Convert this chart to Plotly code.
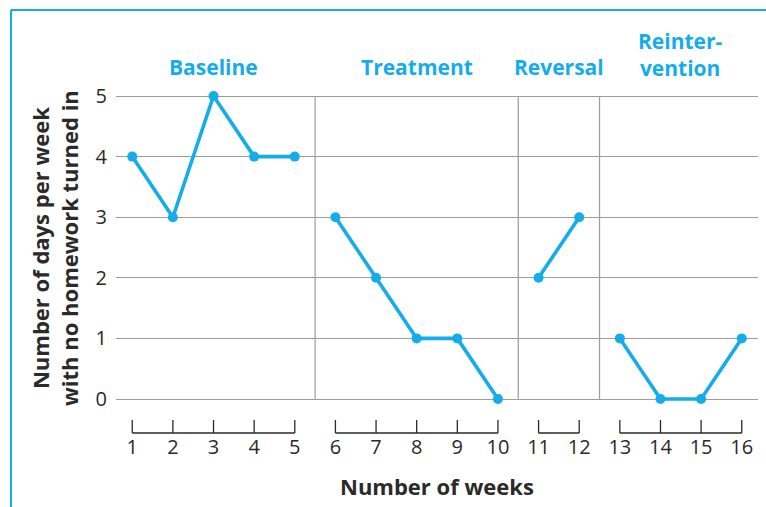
import plotly.graph_objects as go

# ---- data ----
phases = ["Baseline", "Treatment", "Reversal", "Reinter-<br>vention"]
phase_weeks = [[1, 2, 3, 4, 5], [6, 7, 8, 9, 10], [11, 12], [13, 14, 15, 16]]
phase_values = [[4, 3, 5, 4, 4], [3, 2, 1, 1, 0], [2, 3], [1, 0, 0, 1]]
y_ticks = [0, 1, 2, 3, 4, 5]
x_title = "Number of weeks"
y_title = "Number of days per week<br>with no homework turned in"

# ---- styling / layout constants ----
W, H = 766, 507
L, R = 116, 758          # plot area pixel edges (x)
T, B = 80, 470           # plot area pixel edges (y)
Y5, Y0 = 96, 399         # pixel rows of y=5 and y=0
ppu = (Y0 - Y5) / 5.0
y_top = 5 + (Y5 - T) / ppu
y_bot = -(B - Y0) / ppu
BLUE = "#15ADE9"
DARK = "#2a2a2a"
GRID = "#9c9c9c"
BOLD_FONT = "Open Sans"

def py2data(py):
    return (Y0 - py) / ppu

def px2paper(px):
    return (px - L) / (R - L)

def py2paper(py):
    return (B - py) / (B - T)

fig = go.Figure()

# data lines
for wk, vals in zip(phase_weeks, phase_values):
    fig.add_trace(go.Scatter(
        x=wk, y=vals, mode="lines+markers",
        line=dict(color=BLUE, width=3.6),
        marker=dict(color=BLUE, size=10),
        showlegend=False, hoverinfo="skip", cliponaxis=False))

# bracket style x axes under each phase
y_line = py2data(433)
y_tick = py2data(420)
bx, by = [], []
for wk in phase_weeks:
    bx += [wk[0], wk[-1], None]
    by += [y_line, y_line, None]
    for w in wk:
        bx += [w, w, None]
        by += [y_line, y_tick, None]
fig.add_trace(go.Scatter(x=bx, y=by, mode="lines",
                         line=dict(color=DARK, width=1.3),
                         showlegend=False, hoverinfo="skip", cliponaxis=False))

all_weeks = [w for wk in phase_weeks for w in wk]
fig.add_trace(go.Scatter(
    x=all_weeks, y=[py2data(449)] * len(all_weeks), mode="text",
    text=[str(w) for w in all_weeks],
    textfont=dict(family="Open Sans", size=20, color=DARK),
    showlegend=False, hoverinfo="skip", cliponaxis=False))

# phase separators
shapes = []
for a, b in zip(phase_weeks[:-1], phase_weeks[1:]):
    xs = (a[-1] + b[0]) / 2
    shapes.append(dict(type="line", xref="x", yref="y", x0=xs, x1=xs,
                       y0=0, y1=5, line=dict(color=GRID, width=1.2), layer="below"))

# outer light-blue frame (left and top)
shapes.append(dict(type="line", xref="paper", yref="paper",
                   x0=px2paper(11), x1=px2paper(11), y0=py2paper(H + 5), y1=py2paper(10),
                   line=dict(color=BLUE, width=2)))
shapes.append(dict(type="line", xref="paper", yref="paper",
                   x0=px2paper(11), x1=px2paper(W + 5), y0=py2paper(10), y1=py2paper(10),
                   line=dict(color=BLUE, width=2)))

annotations = []
for name, wk in zip(phases, phase_weeks):
    cx = (wk[0] + wk[-1]) / 2
    cy = 54 if "<br>" in name else 67
    annotations.append(dict(
        x=cx, xref="x", y=py2paper(cy), yref="paper", text="<b>%s</b>" % name,
        showarrow=False, xanchor="center", yanchor="middle",
        font=dict(family=BOLD_FONT, size=21, color=BLUE)))

annotations.append(dict(
    x=(phase_weeks[0][0] + phase_weeks[-1][-1]) / 2, xref="x",
    y=py2paper(486), yref="paper", text="<b>%s</b>" % x_title,
    showarrow=False, xanchor="center", yanchor="middle",
    font=dict(family=BOLD_FONT, size=22, color=DARK)))

annotations.append(dict(
    x=px2paper(54), xref="paper", y=py2paper(248), yref="paper",
    text="<b>%s</b>" % y_title, textangle=-90,
    showarrow=False, xanchor="center", yanchor="middle",
    font=dict(family=BOLD_FONT, size=22, color=DARK)))

fig.update_layout(
    width=W, height=H,
    margin=dict(l=L, r=W - R, t=T, b=H - B, pad=0),
    paper_bgcolor="white", plot_bgcolor="white",
    xaxis=dict(range=[0.6, 16.4], visible=False, fixedrange=True),
    yaxis=dict(range=[y_bot, y_top], tickvals=y_ticks,
               ticktext=[str(v) for v in y_ticks],
               showgrid=True, gridcolor=GRID, gridwidth=1.2,
               zeroline=False, showline=False, ticks="",
               ticklabelstandoff=8,
               tickfont=dict(family="Open Sans", size=20, color=DARK)),
    shapes=shapes, annotations=annotations,
    showlegend=False,
)

fig.write_html("out.html",
               config={"displayModeBar": False},
               post_script="document.body.style.margin='0';document.body.style.overflow='hidden';")
